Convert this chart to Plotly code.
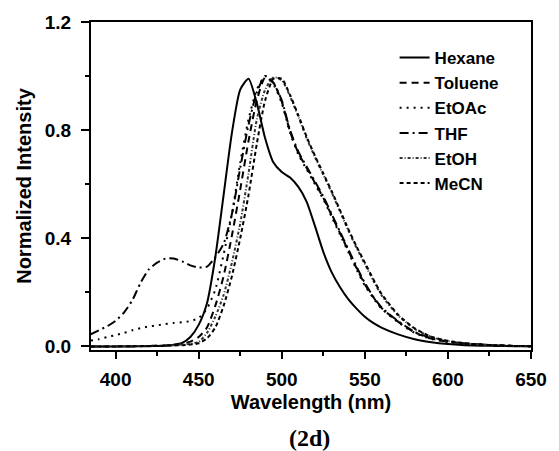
import plotly.graph_objects as go

wavelength = [385, 390, 395, 400, 405, 410, 415, 420, 425, 430, 435, 440, 445, 450, 455,
              460, 465, 470, 475, 480, 485, 490, 495, 500, 505, 510, 515, 520, 525, 530,
              535, 540, 545, 550, 555, 560, 570, 580, 590, 600, 610, 620, 630, 640, 650]

hexane = [0.0, 0.0, 0.0, 0.0, 0.0, 0.0, 0.001, 0.001, 0.002, 0.003, 0.006, 0.013, 0.035, 0.08, 0.16,
          0.33, 0.56, 0.79, 0.95, 0.99, 0.90, 0.77, 0.68, 0.645, 0.625, 0.59, 0.535, 0.445, 0.35, 0.275,
          0.22, 0.175, 0.14, 0.11, 0.087, 0.07, 0.045, 0.027, 0.016, 0.009, 0.005, 0.003, 0.002, 0.001, 0.001]

toluene = [0.0, 0.0, 0.0, 0.0, 0.001, 0.001, 0.002, 0.002, 0.003, 0.004, 0.006, 0.01, 0.018, 0.035, 0.07,
           0.15, 0.26, 0.41, 0.58, 0.76, 0.91, 0.995, 0.975, 0.905, 0.795, 0.715, 0.66, 0.605, 0.55, 0.485,
           0.42, 0.355, 0.29, 0.23, 0.183, 0.143, 0.092, 0.052, 0.029, 0.018, 0.011, 0.007, 0.004, 0.002, 0.001]

etoac = [0.022, 0.027, 0.035, 0.042, 0.05, 0.06, 0.068, 0.074, 0.078, 0.083, 0.087, 0.09, 0.094, 0.105, 0.14,
         0.21, 0.34, 0.49, 0.68, 0.84, 0.95, 1.0, 0.97, 0.90, 0.79, 0.71, 0.655, 0.60, 0.545, 0.48,
         0.415, 0.35, 0.285, 0.225, 0.18, 0.14, 0.09, 0.05, 0.028, 0.017, 0.011, 0.007, 0.004, 0.002, 0.001]

thf = [0.045, 0.06, 0.075, 0.095, 0.125, 0.17, 0.235, 0.285, 0.31, 0.325, 0.325, 0.315, 0.30, 0.292, 0.295,
       0.33, 0.38, 0.49, 0.66, 0.82, 0.94, 1.0, 0.975, 0.91, 0.80, 0.72, 0.665, 0.61, 0.555, 0.49,
       0.425, 0.36, 0.295, 0.235, 0.185, 0.145, 0.094, 0.054, 0.03, 0.018, 0.011, 0.007, 0.004, 0.002, 0.001]

etoh = [0.0, 0.0, 0.0, 0.001, 0.001, 0.001, 0.002, 0.002, 0.003, 0.004, 0.005, 0.007, 0.01, 0.017, 0.05,
        0.11, 0.19, 0.31, 0.455, 0.64, 0.84, 0.95, 0.995, 0.985, 0.925, 0.85, 0.77, 0.70, 0.635, 0.57,
        0.50, 0.43, 0.365, 0.305, 0.245, 0.19, 0.115, 0.065, 0.035, 0.02, 0.012, 0.007, 0.004, 0.002, 0.001]

mecn = [0.0, 0.0, 0.0, 0.0, 0.001, 0.001, 0.001, 0.002, 0.002, 0.003, 0.004, 0.005, 0.007, 0.012, 0.03,
        0.07, 0.15, 0.26, 0.40, 0.56, 0.75, 0.91, 0.99, 0.99, 0.93, 0.855, 0.775, 0.705, 0.64, 0.575,
        0.505, 0.435, 0.37, 0.31, 0.25, 0.195, 0.118, 0.067, 0.036, 0.021, 0.012, 0.007, 0.004, 0.002, 0.001]

series_names = ["Hexane", "Toluene", "EtOAc", "THF", "EtOH", "MeCN"]
series_values = [hexane, toluene, etoac, thf, etoh, mecn]
dashes = ["solid", "7px,5px", "2px,5px", "9px,4px,2px,4px", "3px,2px,1px,2px", "4px,3px"]
colors = ["black", "black", "black", "black", "#333333", "black"]

x_ticks = [400, 450, 500, 550, 600, 650]
y_ticks = [0.0, 0.4, 0.8, 1.2]

fig = go.Figure()
for name, vals, dash, col in zip(series_names, series_values, dashes, colors):
    fig.add_trace(go.Scatter(
        x=wavelength, y=vals, mode="lines", name=name,
        line=dict(color=col, width=2, dash=dash, shape="spline", smoothing=0.6),
    ))

FAM = "Arial, Liberation Sans, sans-serif"
font_tick = dict(family=FAM, color="black", size=19, weight="bold")

fig.update_layout(
    width=559, height=451,
    margin=dict(l=91, r=20, t=20, b=101),
    paper_bgcolor="white", plot_bgcolor="white",
    showlegend=True,
    legend=dict(
        x=0.69, y=0.945, xanchor="left", yanchor="top",
        bgcolor="rgba(0,0,0,0)", borderwidth=0,
        font=dict(family=FAM, color="black", size=17, weight="bold"),
        tracegroupgap=0, itemwidth=30,
    ),
    xaxis=dict(
        range=[385.2, 650], tickvals=x_ticks, ticktext=[str(v) for v in x_ticks],
        showgrid=False, zeroline=False, showline=True, linecolor="black", linewidth=2,
        mirror=True, ticks="outside", ticklen=7, tickwidth=1.5, tickcolor="black",
        minor=dict(tickvals=[425, 475, 525, 575, 625], ticks="outside", ticklen=4,
                   tickwidth=1.5, tickcolor="black"),
        tickfont=font_tick, ticklabelstandoff=4,
        title=dict(text="Wavelength (nm)", font=dict(family=FAM, color="black", size=20, weight="bold"),
                   standoff=6),
    ),
    yaxis=dict(
        range=[-0.013, 1.2], tickvals=y_ticks, ticktext=["%.1f" % v for v in y_ticks],
        showgrid=False, zeroline=False, showline=True, linecolor="black", linewidth=2,
        mirror=True, ticks="outside", ticklen=8, tickwidth=1.5, tickcolor="black",
        minor=dict(tickvals=[0.2, 0.6, 1.0], ticks="outside", ticklen=4,
                   tickwidth=1.5, tickcolor="black"),
        tickfont=font_tick, ticklabelstandoff=6,
        title=dict(text="Normalized Intensity", font=dict(family=FAM, color="black", size=20, weight="bold"),
                   standoff=8),
    ),
)

fig.add_annotation(
    text="(2d)", xref="paper", yref="paper", x=0.496, y=-0.268,
    xanchor="center", yanchor="middle", showarrow=False,
    font=dict(family="Times New Roman, Liberation Serif, serif", size=24, color="black", weight="bold"),
)

fig.write_html("out.html", config={"displayModeBar": False})

with open("out.html", "r", encoding="utf-8") as f:
    html = f.read()
html = html.replace("<head>", "<head><style>html,body{margin:0;padding:0;overflow:hidden;}</style>", 1)
with open("out.html", "w", encoding="utf-8") as f:
    f.write(html)
